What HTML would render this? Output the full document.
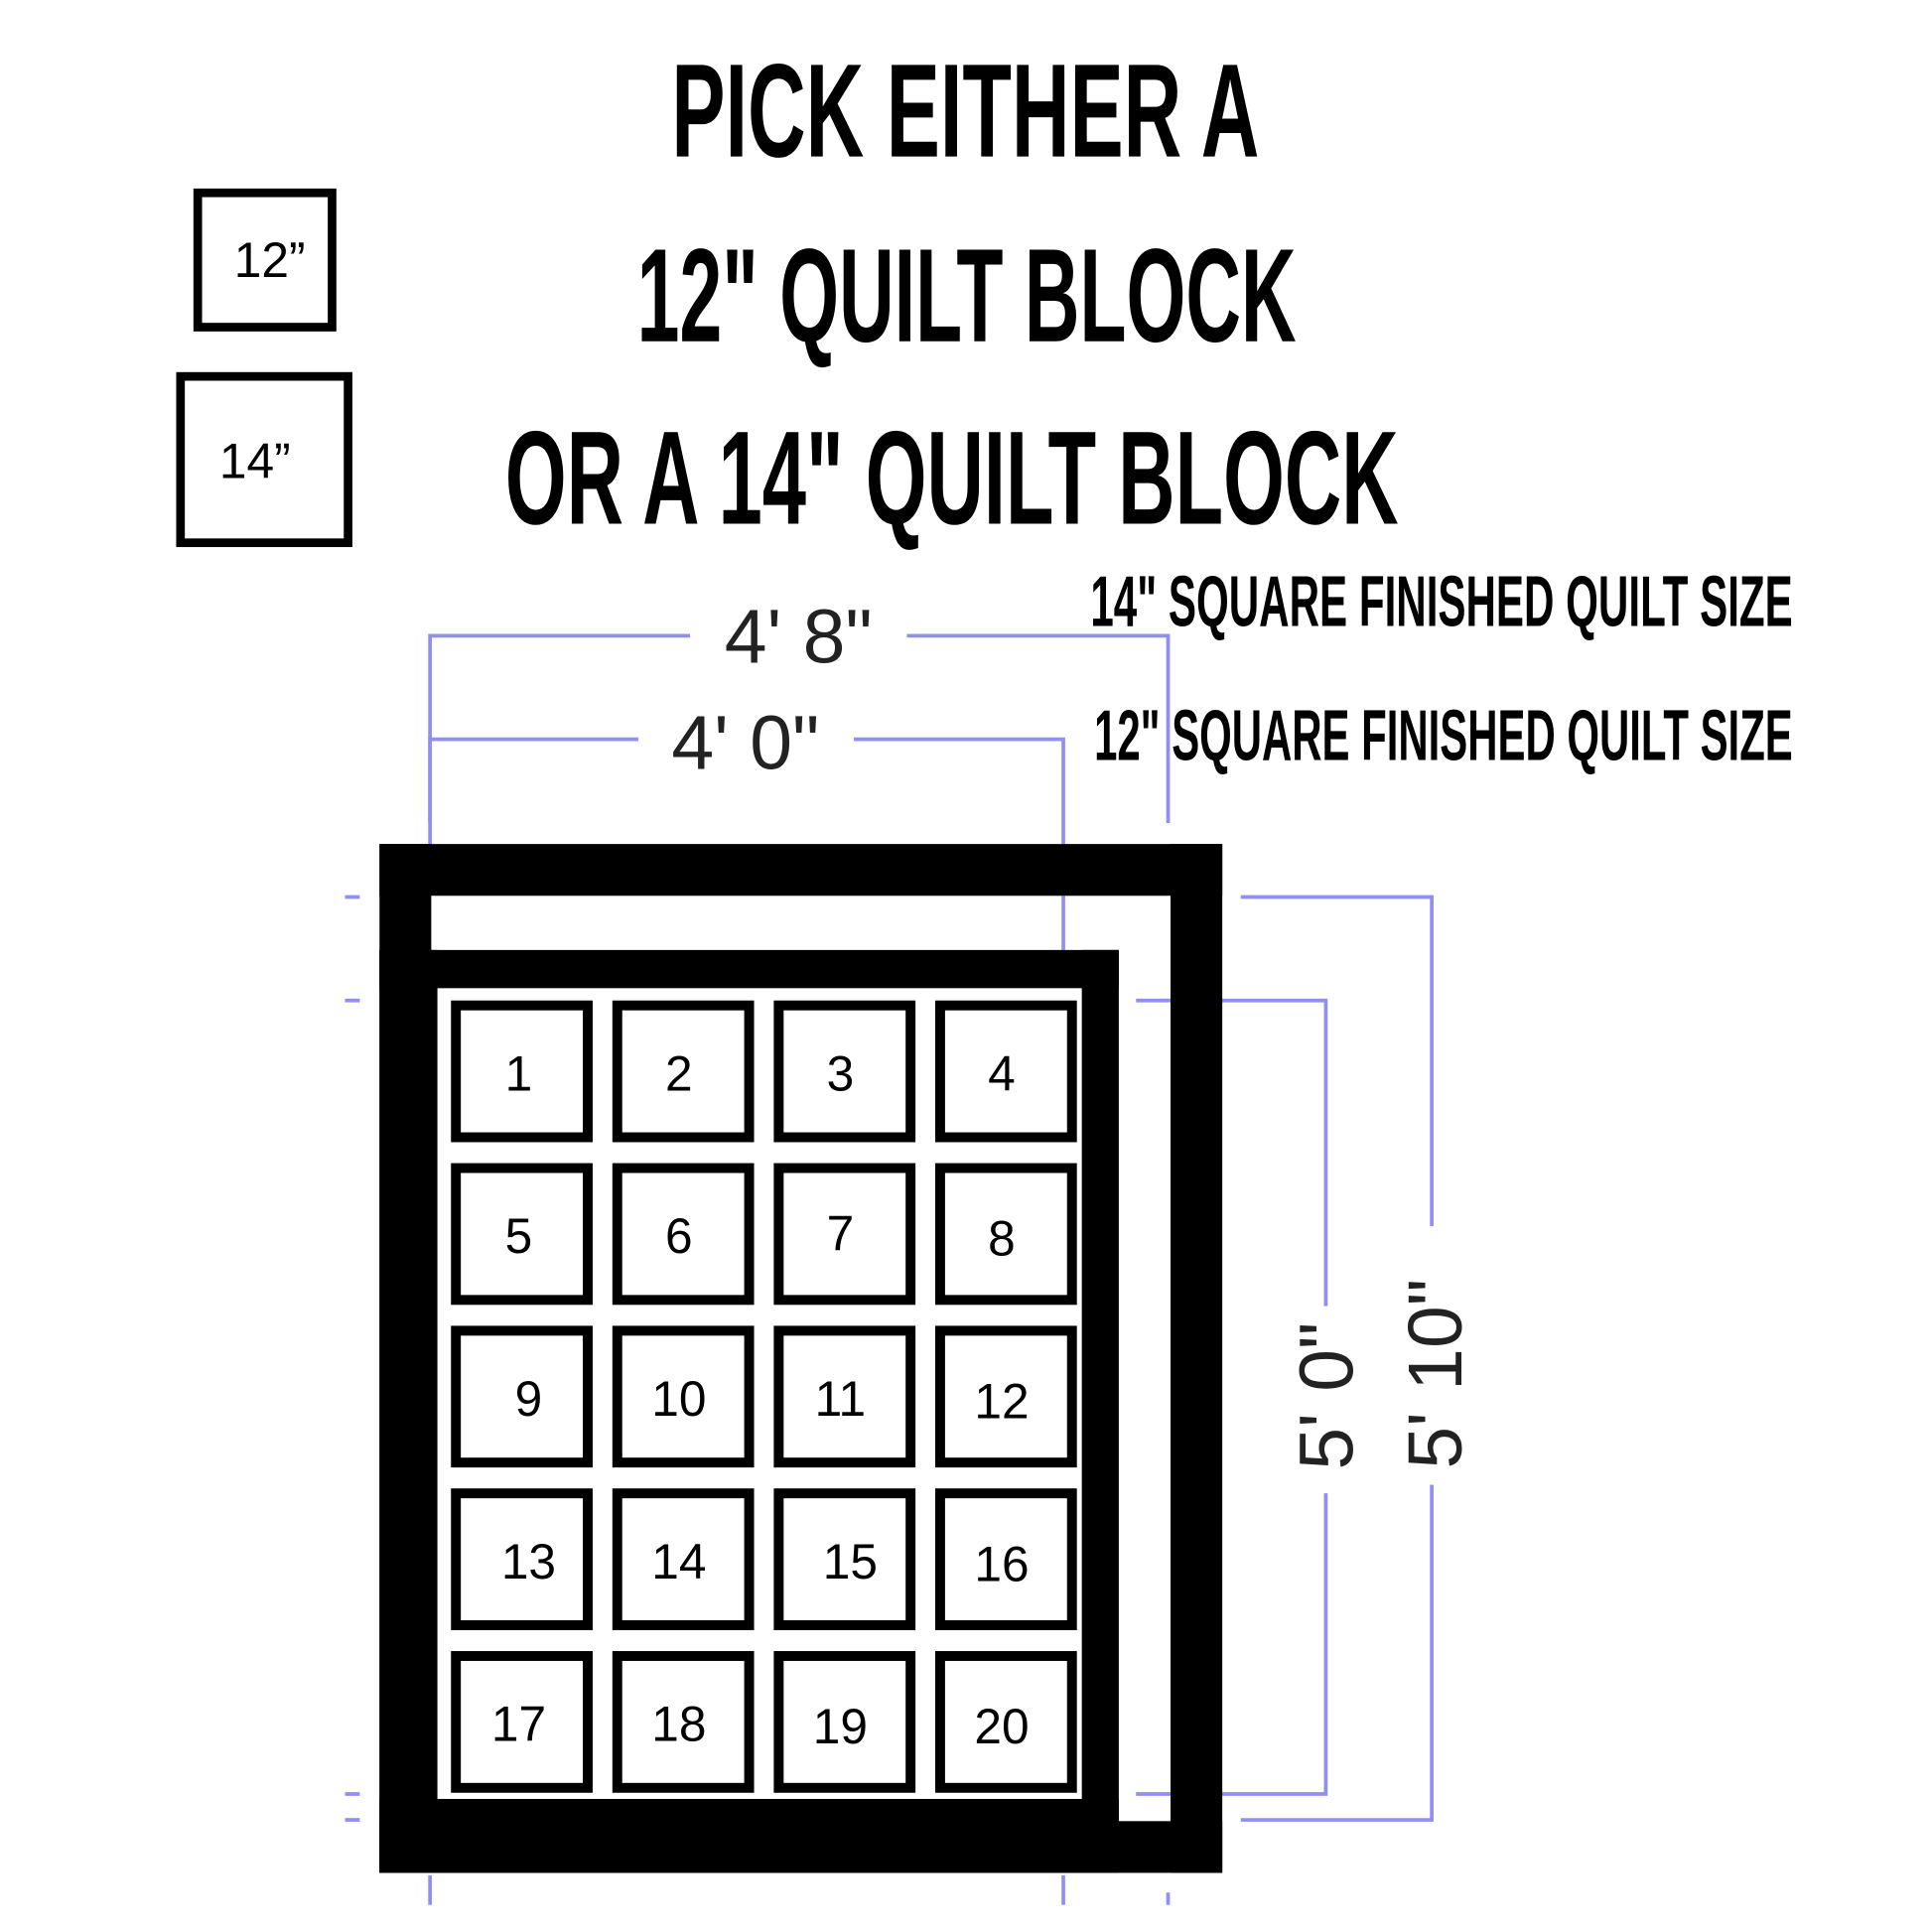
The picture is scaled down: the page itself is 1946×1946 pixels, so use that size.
<!DOCTYPE html>
<html><head><meta charset="utf-8"><style>html,body{margin:0;padding:0;background:#fff}svg{display:block}</style></head><body>
<svg width="1946" height="1946" viewBox="0 0 1568 1568" xmlns="http://www.w3.org/2000/svg">
<rect width="1568" height="1568" fill="#fff"/>
<g font-family="'Liberation Sans', sans-serif" fill="#000" font-weight="bold">
<text x="545" y="127" font-size="108" textLength="477" lengthAdjust="spacingAndGlyphs">PICK EITHER A</text>
<text x="517" y="277" font-size="108" textLength="535" lengthAdjust="spacingAndGlyphs">12" QUILT BLOCK</text>
<text x="410" y="425" font-size="108" textLength="725" lengthAdjust="spacingAndGlyphs">OR A 14" QUILT BLOCK</text>
<text x="885" y="508" font-size="58" textLength="570" lengthAdjust="spacingAndGlyphs">14" SQUARE FINISHED QUILT SIZE</text>
<text x="888" y="617" font-size="58" textLength="567" lengthAdjust="spacingAndGlyphs">12" SQUARE FINISHED QUILT SIZE</text>
</g>
<g font-family="'Liberation Sans', sans-serif" fill="#000">
<text x="190" y="225" font-size="40">12”</text>
<text x="178" y="388" font-size="40">14”</text>
</g>
<rect x="160.5" y="156.5" width="109" height="109" fill="none" stroke="#000" stroke-width="7"/>
<rect x="146.5" y="305.5" width="136" height="135" fill="none" stroke="#000" stroke-width="7"/>
<g stroke="#8f8ff5" stroke-width="3" fill="none">
<polyline points="349,668 349,516 560,516"/><polyline points="736,516 948,516 948,668"/>
<polyline points="349,685 349,600 518,600"/><polyline points="693,600 863,600 863,685"/>
<line x1="863" y1="727" x2="863" y2="771"/>
<polyline points="1007,728 1162,728 1162,995"/><polyline points="1162,1205 1162,1477 1007,1477"/>
<polyline points="922,812 1076,812 1076,1060"/><polyline points="1076,1212 1076,1456 922,1456"/>
<line x1="280" y1="728" x2="292" y2="728"/><line x1="280" y1="812" x2="292" y2="812"/>
<line x1="280" y1="1456" x2="292" y2="1456"/><line x1="280" y1="1477" x2="292" y2="1477"/>
<line x1="349" y1="1522" x2="349" y2="1546"/><line x1="863" y1="1522" x2="863" y2="1546"/><line x1="948" y1="1536" x2="948" y2="1546"/>
</g>
<g font-family="'Liberation Sans', sans-serif" fill="#222" font-size="62">
<text x="648" y="538" text-anchor="middle">4' 8"</text>
<text x="605" y="624" text-anchor="middle">4' 0"</text>
<text transform="translate(1098,1133) rotate(-90)" text-anchor="middle">5' 0"</text>
<text transform="translate(1186,1115) rotate(-90)" text-anchor="middle">5' 10"</text>
</g>
<rect x="308" y="685" width="684" height="42" fill="#000"/>
<rect x="308" y="685" width="42" height="835" fill="#000"/>
<rect x="950" y="685" width="42" height="835" fill="#000"/>
<rect x="308" y="1478" width="684" height="42" fill="#000"/>
<rect x="308" y="771" width="600" height="31" fill="#000"/>
<rect x="308" y="771" width="47" height="749" fill="#000"/>
<rect x="878" y="771" width="30" height="707" fill="#000"/>
<rect x="308" y="1460" width="600" height="60" fill="#000"/>
<g fill="none" stroke="#000" stroke-width="8">
<rect x="370" y="816" width="107" height="107"/><rect x="501" y="816" width="107" height="107"/><rect x="632" y="816" width="107" height="107"/><rect x="763" y="816" width="107" height="107"/>
<rect x="370" y="948" width="107" height="107"/><rect x="501" y="948" width="107" height="107"/><rect x="632" y="948" width="107" height="107"/><rect x="763" y="948" width="107" height="107"/>
<rect x="370" y="1080" width="107" height="107"/><rect x="501" y="1080" width="107" height="107"/><rect x="632" y="1080" width="107" height="107"/><rect x="763" y="1080" width="107" height="107"/>
<rect x="370" y="1212" width="107" height="107"/><rect x="501" y="1212" width="107" height="107"/><rect x="632" y="1212" width="107" height="107"/><rect x="763" y="1212" width="107" height="107"/>
<rect x="370" y="1344" width="107" height="107"/><rect x="501" y="1344" width="107" height="107"/><rect x="632" y="1344" width="107" height="107"/><rect x="763" y="1344" width="107" height="107"/>
</g>
<g font-family="'Liberation Sans', sans-serif" font-size="40" fill="#000" text-anchor="middle">
<text x="421" y="885">1</text><text x="551" y="885">2</text><text x="682" y="885">3</text><text x="813" y="885">4</text>
<text x="421" y="1017">5</text><text x="551" y="1017">6</text><text x="682" y="1015">7</text><text x="813" y="1019">8</text>
<text x="429" y="1149">9</text><text x="551" y="1149">10</text><text x="682" y="1149">11</text><text x="813" y="1151">12</text>
<text x="429" y="1281">13</text><text x="551" y="1281">14</text><text x="690" y="1281">15</text><text x="813" y="1283">16</text>
<text x="421" y="1413">17</text><text x="551" y="1413">18</text><text x="682" y="1415">19</text><text x="813" y="1415">20</text>
</g>
</svg>
</body></html>
